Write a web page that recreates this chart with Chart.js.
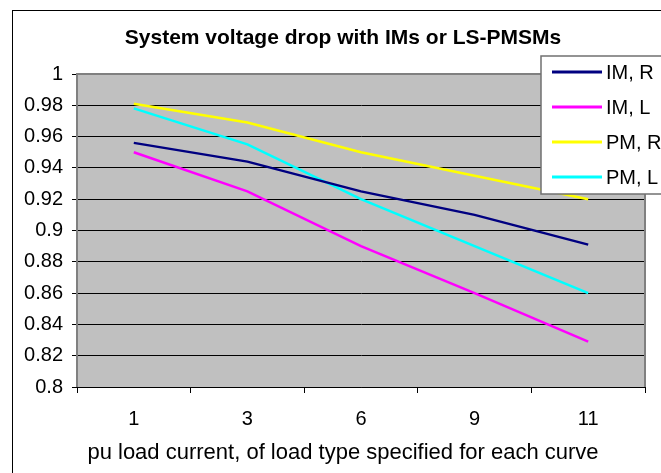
<!DOCTYPE html>
<html lang="en">
  <head>
    <meta charset="UTF-8" />
    <title>System voltage drop with IMs or LS-PMSMs</title>
    <style>
      html, body { margin: 0; padding: 0; background: #fff; }
      #wrap { width: 661px; height: 473px; }
    </style>
  </head>
  <body>
    <div id="wrap"><canvas id="voltChart" width="661" height="473"></canvas></div>

    <script src="https://cdn.jsdelivr.net/npm/chart.js@4.4.0/dist/chart.umd.min.js"></script>
    <script>
      // categories (pu load current)
      const loadCurrents = ["1", "3", "6", "9", "11"];

      // series values
      const imR = [0.956, 0.944, 0.925, 0.91, 0.891];
      const imL = [0.95, 0.925, 0.89, 0.86, 0.829];
      const pmR = [0.981, 0.969, 0.95, 0.935, 0.92];
      const pmL = [0.978, 0.955, 0.92, 0.89, 0.86];

      const seriesNames = ["IM, R", "IM, L", "PM, R", "PM, L"];
      const seriesColors = ["#000080", "#FF00FF", "#FFFF00", "#00FFFF"];

      const chartTitle = "System voltage drop with IMs or LS-PMSMs";
      const xAxisTitle = "pu load current, of load type specified for each curve";

      const FONT = "'Liberation Sans', Arial, sans-serif";

      // white page, outer frame, grey plot area, captions
      const framePlugin = {
        id: "frame",
        beforeDraw(chart) {
          const { ctx, chartArea } = chart;
          ctx.save();
          ctx.fillStyle = "#fff";
          ctx.fillRect(0, 0, chart.width, chart.height);
          ctx.strokeStyle = "#000";
          ctx.lineWidth = 1;
          ctx.strokeRect(12.5, 10.5, chart.width + 20, chart.height + 20);
          ctx.fillStyle = "#C0C0C0";
          ctx.fillRect(chartArea.left, chartArea.top, chartArea.right - chartArea.left, chartArea.bottom - chartArea.top);
          ctx.restore();
        },
        afterDatasetsDraw(chart) {
          const { ctx, chartArea } = chart;
          ctx.save();
          ctx.strokeStyle = "#808080";
          ctx.lineWidth = 2;
          ctx.beginPath();
          ctx.moveTo(chartArea.left, chartArea.bottom);
          ctx.lineTo(chartArea.left, chartArea.top);
          ctx.lineTo(chartArea.right, chartArea.top);
          ctx.lineTo(chartArea.right, chartArea.bottom);
          ctx.stroke();
          ctx.restore();
        },
        afterDraw(chart) {
          // captions are centred on the frame rather than on the plot
          const { ctx } = chart;
          ctx.save();
          ctx.fillStyle = "#000";
          ctx.textAlign = "center";
          ctx.textBaseline = "middle";
          ctx.font = "bold 21px " + FONT;
          ctx.fillText(chartTitle, 343, 38);
          ctx.font = "22px " + FONT;
          ctx.fillText(xAxisTitle, 343, 453);
          ctx.restore();
        },
      };

      // legend box that sits over the top right of the plot
      const boxLegend = {
        id: "boxLegend",
        afterDraw(chart) {
          const { ctx, chartArea } = chart;
          const x = chartArea.right - 104;
          const y = chartArea.top - 18;
          ctx.save();
          ctx.fillStyle = "#fff";
          ctx.fillRect(x, y, 200, 138);
          ctx.strokeStyle = "#707070";
          ctx.lineWidth = 1.5;
          ctx.strokeRect(x, y, 200, 138);
          ctx.font = "20px " + FONT;
          ctx.textBaseline = "middle";
          chart.data.datasets.forEach((ds, i) => {
            const ry = y + 16 + i * 35;
            ctx.strokeStyle = ds.borderColor;
            ctx.lineWidth = 3;
            ctx.beginPath();
            ctx.moveTo(x + 11, ry);
            ctx.lineTo(x + 61, ry);
            ctx.stroke();
            ctx.fillStyle = "#000";
            ctx.fillText(ds.label, x + 65, ry + 1);
          });
          ctx.restore();
        },
      };

      const datasets = [imR, imL, pmR, pmL].map((vals, i) => ({
        label: seriesNames[i],
        data: vals,
        borderColor: seriesColors[i],
        backgroundColor: seriesColors[i],
        borderWidth: 2.5,
        pointRadius: 0,
        tension: 0,
      }));

      new Chart(document.getElementById("voltChart"), {
        type: "line",
        data: { labels: loadCurrents, datasets: datasets },
        options: {
          responsive: false,
          animation: false,
          layout: { padding: { left: 0, right: 16, top: 74, bottom: 0 } },
          plugins: {
            legend: { display: false },
            tooltip: { enabled: false },
            title: { display: false },
          },
          scales: {
            x: {
              offset: true,
              grid: {
                offset: true,
                drawOnChartArea: false,
                drawTicks: true,
                tickLength: 6,
                color: "#000",
              },
              border: { color: "#000", width: 1 },
              ticks: {
                color: "#000",
                padding: 14,
                font: { family: FONT, size: 20 },
                maxRotation: 0,
              },
              afterFit(scale) { scale.height = 86; },
            },
            y: {
              min: 0.8,
              max: 1,
              grid: {
                color: "#000",
                lineWidth: 1,
                drawTicks: true,
                tickLength: 5,
              },
              border: { color: "#000", width: 1 },
              ticks: {
                stepSize: 0.02,
                color: "#000",
                padding: 9,
                font: { family: FONT, size: 20 },
                callback: (v) => Number(v.toFixed(2)).toString(),
              },
              afterFit(scale) { scale.width = 77; },
            },
          },
        },
        plugins: [framePlugin, boxLegend],
      });
    </script>
  </body>
</html>
